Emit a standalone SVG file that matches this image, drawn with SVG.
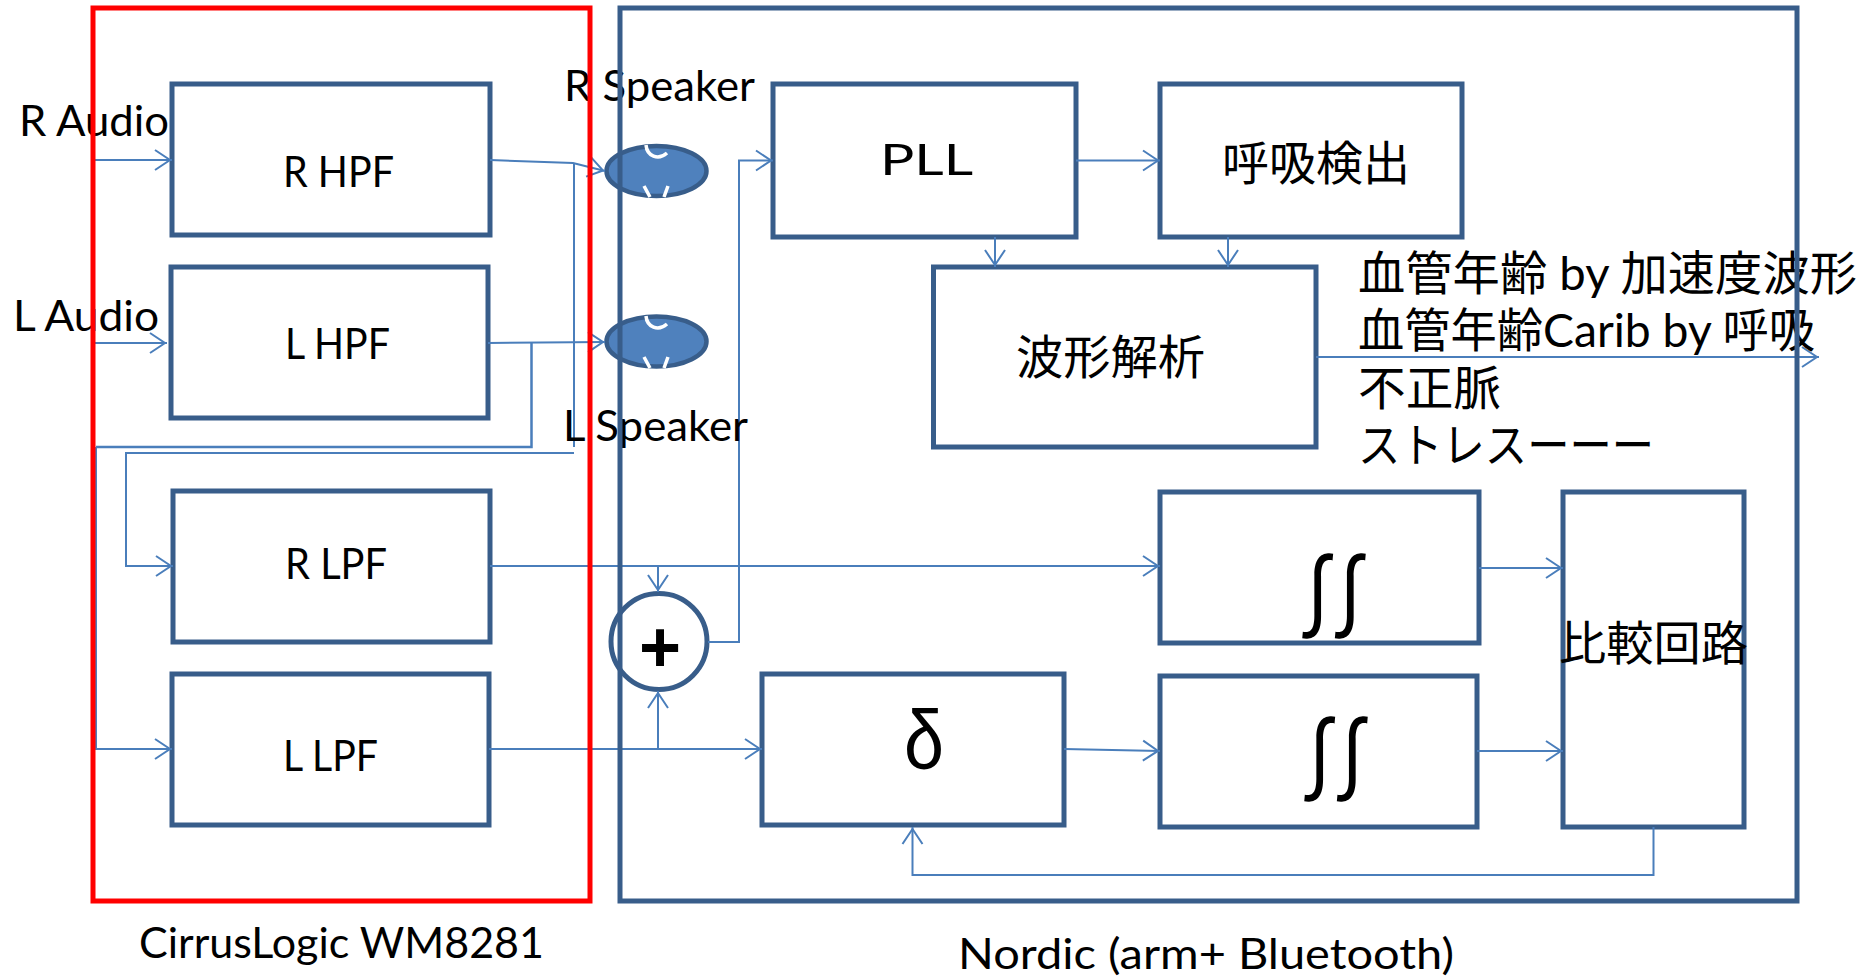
<svg xmlns="http://www.w3.org/2000/svg" width="1872" height="979" viewBox="0 0 1872 979">
<style>
text{font-family:"Lato","Noto Sans CJK JP",sans-serif;fill:#000}
.t{font-size:42px}
.j{font-size:47px}
.i{font-size:90px;font-family:"Noto Sans CJK JP",sans-serif}
.b{fill:#fff;stroke:#385d8a;stroke-width:5;stroke-linejoin:miter}
.c{fill:none;stroke:#4a7ebb;stroke-width:2}
.a{marker-end:url(#arr)}
.frame{fill:none;stroke-width:5}
.sp{fill:#4f81bd;stroke:#385d8a;stroke-width:4.5}
.w{fill:none;stroke:#fff;stroke-width:3.5}
</style>
<defs>
<marker id="arr" markerUnits="userSpaceOnUse" markerWidth="24" markerHeight="26" refX="19" refY="12" orient="auto" overflow="visible">
<path d="M2,2 L17,12 L2,22" fill="none" stroke="#4a7ebb" stroke-width="2"/>
</marker>
</defs>
<rect width="1872" height="979" fill="#fff"/>
<g id="nodes-lower">
<g id="r-hpf"><rect class="b" x="172" y="84" width="318" height="151"/><text class="t" x="283" y="187" textLength="111" lengthAdjust="spacingAndGlyphs">R HPF</text></g>
<g id="l-hpf"><rect class="b" x="171" y="267" width="317" height="151"/><text class="t" x="285" y="359" textLength="105" lengthAdjust="spacingAndGlyphs">L HPF</text></g>
<g id="r-lpf"><rect class="b" x="173" y="491" width="317" height="151"/><text class="t" x="285" y="579" textLength="102" lengthAdjust="spacingAndGlyphs">R LPF</text></g>
<g id="l-lpf"><rect class="b" x="172" y="674" width="317" height="151"/><text class="t" x="283" y="771" textLength="95" lengthAdjust="spacingAndGlyphs">L LPF</text></g>
<g id="pll"><rect class="b" x="773" y="84" width="303" height="153"/><text x="880" y="175" font-size="42" textLength="93" lengthAdjust="spacingAndGlyphs">PLL</text></g>
<g id="breath"><rect class="b" x="1160" y="84" width="302" height="153"/><text class="j" x="1222" y="180" textLength="188" lengthAdjust="spacingAndGlyphs">呼吸検出</text></g>
<g id="wave"><rect class="b" x="933.5" y="267" width="382.5" height="180"/><text class="j" x="1016" y="374" textLength="189" lengthAdjust="spacingAndGlyphs">波形解析</text></g>
<g id="delta"><rect class="b" x="762" y="674" width="302" height="151"/><text x="904" y="769" font-size="84" style="font-family:'Liberation Sans',sans-serif" textLength="40" lengthAdjust="spacingAndGlyphs">δ</text></g>
<g id="int1"><rect class="b" x="1160" y="492" width="319" height="151"/><text class="i" x="1292" y="630" textLength="84" lengthAdjust="spacingAndGlyphs">∬</text></g>
<g id="int2"><rect class="b" x="1160" y="676" width="317" height="151"/><text class="i" x="1294" y="793" textLength="84" lengthAdjust="spacingAndGlyphs">∬</text></g>
<g id="compare"><rect class="b" x="1563" y="492" width="181" height="335"/><text class="j" x="1559" y="660" textLength="189" lengthAdjust="spacingAndGlyphs">比較回路</text></g>
<g id="r-speaker"><ellipse class="sp" cx="656.5" cy="171" rx="50" ry="25"/><path class="w" d="M646,145 C647,156 658,161 667,153 M644,186 L650,197 M668,186 L664,197"/></g>
<g id="l-speaker"><ellipse class="sp" cx="656.5" cy="341.5" rx="50" ry="25"/><path class="w" d="M646,316 C647,327 658,332 667,324 M644,357 L650,368 M668,357 L664,368"/></g>
<g id="sum"><ellipse cx="659" cy="641.5" rx="48" ry="48" fill="#fff" stroke="#385d8a" stroke-width="5"/><text x="639" y="672" font-size="72" font-weight="700" style="font-family:'Liberation Sans',sans-serif">+</text></g>
</g>
<g id="connectors">
<path class="c a" d="M95,160 H172"/>
<path class="c a" d="M95,343 H167"/>
<path class="c a" d="M490,160 L573,163 L605,171"/>
<path class="c" d="M574,163 V447"/>
<path class="c a" d="M574,453 H126 V566 H173"/>
<path class="c a" d="M488,343 L605,342"/>
<path class="c" style="stroke-width:2.5" d="M531.5,343 V447 H96"/>
<path class="c a" d="M96,447 V749 H172"/>
<path class="c a" d="M490,566 H1160"/>
<path class="c a" d="M658,566 V592"/>
<path class="c a" d="M489,749 H762"/>
<path class="c a" d="M658,749 V691"/>
<path class="c a" d="M708,642 H739 V160.5 H773"/>
<path class="c a" d="M1076,160.5 H1160"/>
<path class="c a" d="M995,237 V267"/>
<path class="c a" d="M1228,237 V267"/>
<path class="c a" d="M1316,357 H1819"/>
<path class="c a" d="M1064,749 L1160,751"/>
<path class="c a" d="M1479,568 H1563"/>
<path class="c a" d="M1477,751 H1563"/>
<path class="c a" d="M1653.5,827 V875 H912.5 V827"/>
</g>
<g id="labels">
<text class="t" x="19" y="136" textLength="150" lengthAdjust="spacingAndGlyphs">R Audio</text>
<text class="t" x="13" y="331" textLength="146" lengthAdjust="spacingAndGlyphs">L Audio</text>
<text class="t" x="564" y="101" textLength="191" lengthAdjust="spacingAndGlyphs">R Speaker</text>
<text class="t" x="563" y="441" textLength="185" lengthAdjust="spacingAndGlyphs">L Speaker</text>
<text class="t" x="139" y="958" textLength="405" lengthAdjust="spacingAndGlyphs">CirrusLogic WM8281</text>
<text class="t" x="958" y="969" textLength="496" lengthAdjust="spacingAndGlyphs">Nordic (arm+ Bluetooth)</text>
<text class="j" x="1358" y="290" textLength="499" lengthAdjust="spacingAndGlyphs">血管年齢 by 加速度波形</text>
<text class="j" x="1358" y="347" textLength="457" lengthAdjust="spacingAndGlyphs">血管年齢Carib by 呼吸</text>
<text class="j" x="1358" y="405" textLength="143" lengthAdjust="spacingAndGlyphs">不正脈</text>
<text class="j" x="1358" y="462" textLength="296" lengthAdjust="spacingAndGlyphs">ストレスーーー</text>
</g>
<g id="containers">
<rect id="cirrus" class="frame" stroke="#ff0000" x="93" y="8" width="497" height="893"/>
<rect id="nordic" class="frame" stroke="#385d8a" x="620" y="8" width="1177" height="893"/>
</g>
</svg>
